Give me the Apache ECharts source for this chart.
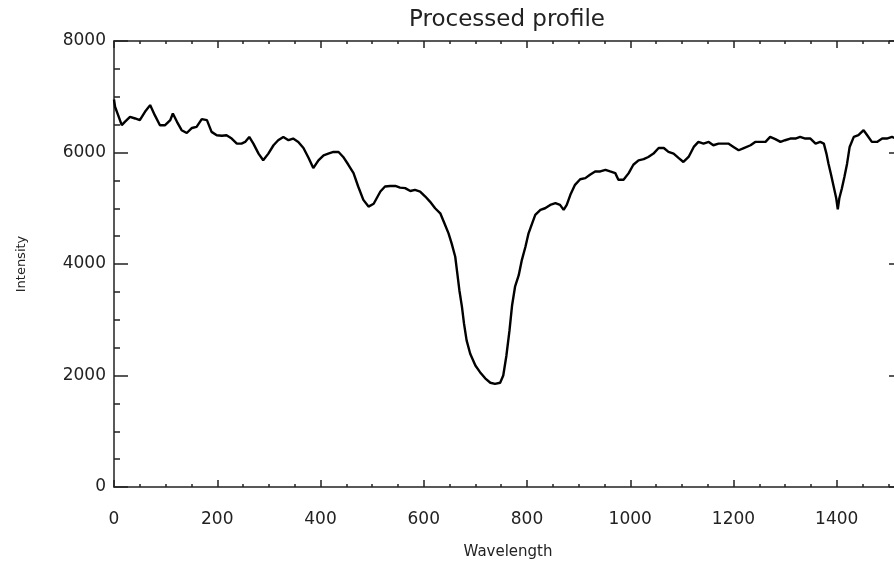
<!DOCTYPE html>
<html>
<head>
<meta charset="utf-8">
<script src="https://cdn.jsdelivr.net/npm/echarts@6/dist/echarts.min.js"></script>
<style>
  html, body { margin: 0; padding: 0; background: #fff; }
  #myChart { width: 894px; height: 565px; }
</style>
</head>
<body>
<div id="myChart"></div>
<script>
  // values
  var wavelength = [
    0, 2, 8, 15, 21, 31, 41, 50, 60, 70, 79, 89, 99, 109, 114, 122, 131, 141, 151, 160,
    170, 180, 189, 199, 209, 218, 228, 238, 247, 254, 262, 270, 280, 289, 299, 309, 318, 328, 338, 347,
    357, 367, 377, 386, 396, 406, 415, 425, 435, 444, 454, 464, 473, 483, 493, 503, 516, 525, 535, 545,
    554, 564, 574, 583, 593, 603, 612, 622, 632, 640, 648, 654, 661, 665, 669, 674, 678, 683, 690, 700,
    709, 719, 729, 738, 748, 754, 760, 766, 771, 777, 784, 790, 797, 803, 810, 816, 826, 835, 845, 855,
    864, 871, 877, 884, 893, 903, 913, 922, 932, 942, 952, 961, 971, 977, 987, 997, 1006, 1016, 1026, 1035,
    1045, 1055, 1065, 1074, 1084, 1094, 1103, 1113, 1123, 1132, 1142, 1152, 1161, 1171, 1181, 1190, 1200, 1210, 1220, 1233,
    1242, 1252, 1262, 1271, 1281, 1291, 1300, 1310, 1320, 1329, 1339, 1349, 1359, 1368, 1375, 1380, 1384, 1389, 1394, 1399,
    1402, 1405, 1410, 1415, 1420, 1425, 1433, 1442, 1452, 1459, 1468, 1478, 1488, 1497, 1507, 1515
  ];
  var intensity = [
    6950, 6820, 6670, 6490, 6550, 6640, 6610, 6580, 6730, 6850, 6670, 6490, 6490, 6580, 6700, 6550, 6400, 6350, 6440, 6460,
    6600, 6580, 6370, 6310, 6300, 6310, 6250, 6160, 6160, 6190, 6280, 6160, 5980, 5860, 5980, 6130, 6220, 6280, 6220, 6250,
    6190, 6080, 5900, 5720, 5860, 5950, 5980, 6010, 6010, 5920, 5780, 5630, 5390, 5150, 5030, 5080, 5300, 5390, 5400, 5400,
    5370, 5360, 5310, 5330, 5300, 5210, 5120, 5000, 4910, 4730, 4550, 4370, 4130, 3830, 3530, 3230, 2930, 2630, 2390, 2180,
    2060, 1950, 1870, 1850, 1870, 2000, 2350, 2800, 3250, 3600, 3800, 4070, 4310, 4550, 4730, 4880, 4970, 5000, 5060, 5090,
    5060, 4970, 5060, 5240, 5420, 5520, 5540, 5600, 5660, 5660, 5690, 5660, 5630, 5510, 5510, 5630, 5780, 5860, 5880, 5920,
    5980, 6080, 6080, 6010, 5980, 5900, 5830, 5920, 6100, 6190, 6160, 6190, 6130, 6160, 6160, 6160, 6100, 6040, 6080, 6130,
    6190, 6190, 6190, 6280, 6240, 6190, 6220, 6250, 6250, 6280, 6250, 6250, 6160, 6190, 6160, 5980, 5800, 5600, 5390, 5180,
    4980, 5180, 5360, 5570, 5800, 6100, 6280, 6310, 6400, 6310, 6190, 6190, 6250, 6250, 6280, 6250
  ];

  var points = wavelength.map(function (w, i) { return [w, intensity[i]]; });

  var axisColor = '#222';
  var fontFamily = 'DejaVu Sans';
  var plain = function (v) { return String(v); };

  var myChart = echarts.init(document.getElementById('myChart'));
  myChart.setOption({
    backgroundColor: '#fff',
    animation: false,
    title: {
      text: 'Processed profile',
      left: 404,
      top: 4,
      textStyle: { fontFamily: fontFamily, fontSize: 23, fontWeight: 'normal', color: axisColor }
    },
    grid: { left: 114, top: 41, right: -46, bottom: 78, containLabel: false, outerBoundsMode: 'none' },
    xAxis: [
      {
        type: 'value',
        min: 0,
        max: 1600,
        interval: 200,
        position: 'bottom',
        name: 'Wavelength',
        nameLocation: 'middle',
        nameGap: 58,
        nameTextStyle: { fontFamily: fontFamily, fontSize: 15, color: axisColor, padding: [0, 38, 0, 0] },
        axisLine: { onZero: false, lineStyle: { color: axisColor, width: 1.5 } },
        axisTick: { inside: true, length: 7, lineStyle: { color: axisColor, width: 1.5 } },
        minorTick: { show: true, splitNumber: 4, length: 3, lineStyle: { color: axisColor, width: 1.5 } },
        axisLabel: { margin: 24, fontFamily: fontFamily, fontSize: 17, color: axisColor, showMaxLabel: false, formatter: plain },
        splitLine: { show: false }
      },
      {
        type: 'value',
        min: 0,
        max: 1600,
        interval: 200,
        position: 'top',
        axisLine: { onZero: false, lineStyle: { color: axisColor, width: 1.5 } },
        axisTick: { inside: true, length: 7, lineStyle: { color: axisColor, width: 1.5 } },
        minorTick: { show: true, splitNumber: 4, length: 3, lineStyle: { color: axisColor, width: 1.5 } },
        axisLabel: { show: false },
        splitLine: { show: false }
      }
    ],
    yAxis: [
      {
        type: 'value',
        min: 0,
        max: 8000,
        interval: 2000,
        position: 'left',
        name: 'Intensity',
        nameLocation: 'middle',
        nameRotate: 90,
        nameGap: 86,
        nameTextStyle: { fontFamily: fontFamily, fontSize: 13, color: axisColor },
        axisLine: { show: true, onZero: false, lineStyle: { color: axisColor, width: 1.5 } },
        axisTick: { show: true, inside: true, length: 14, lineStyle: { color: axisColor, width: 1.5 } },
        minorTick: { show: true, splitNumber: 4, length: 6, lineStyle: { color: axisColor, width: 1.5 } },
        axisLabel: { margin: 8, fontFamily: fontFamily, fontSize: 17, color: axisColor, formatter: plain },
        splitLine: { show: false }
      },
      {
        type: 'value',
        min: 0,
        max: 8000,
        interval: 2000,
        position: 'right',
        offset: -37,
        axisLine: { show: true, onZero: false, lineStyle: { color: axisColor, width: 1.5 } },
        axisTick: { show: true, inside: true, length: 14, lineStyle: { color: axisColor, width: 1.5 } },
        minorTick: { show: true, splitNumber: 4, length: 6, lineStyle: { color: axisColor, width: 1.5 } },
        axisLabel: { show: false },
        splitLine: { show: false }
      }
    ],
    series: [
      {
        name: 'Intensity',
        type: 'line',
        xAxisIndex: 0,
        yAxisIndex: 0,
        data: points,
        showSymbol: false,
        lineStyle: { color: '#000', width: 2.4 }
      }
    ]
  });
  window.onresize = myChart.resize;
</script>
</body>
</html>
